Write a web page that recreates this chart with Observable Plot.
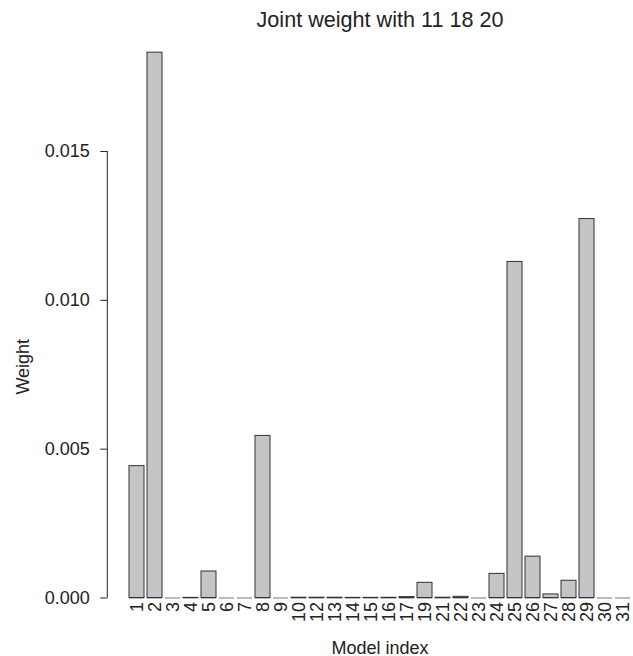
<!DOCTYPE html>
<html><head><meta charset="utf-8">
<script src="https://cdn.jsdelivr.net/npm/d3@7"></script>
<script src="https://cdn.jsdelivr.net/npm/@observablehq/plot@0.6"></script>
<style>body{margin:0;background:#fff}</style>
</head><body><div id="chart"></div>
<script>
const models = ["1","2","3","4","5","6","7","8","9","10","12","13","14","15","16","17","19","21","22","23","24","25","26","27","28","29","30","31"];
const weights = [0.00443, 0.01832, 0, 0.000005, 0.00089, 0, 0, 0.005445, 0, 0.00001, 0.00001, 0.00001, 0.000005, 0.000005, 0.000008, 0.00003, 0.00051, 0.00001, 0.00004, 0, 0.00081, 0.01129, 0.00139, 0.00012, 0.00058, 0.01273, 0, 0];
const yTicks = [0, 0.005, 0.010, 0.015];
const title = "Joint weight with 11 18 20";
const xLabel = "Model index";
const yLabel = "Weight";

const data = models.map((m, i) => ({model: m, weight: weights[i]}));

const W = 633, H = 656, mL = 127, mR = 1, mT = 151, mB = 58.5;
const axisOffset = 19.7;
const font = "'Liberation Sans', Arial, Helvetica, sans-serif";

const chart = Plot.plot({
  width: W, height: H,
  marginLeft: mL, marginRight: mR, marginTop: mT, marginBottom: mB,
  style: {fontFamily: font, fontSize: "18px", color: "#222", background: "#fff"},
  x: {type: "band", domain: models, paddingInner: 0.2 / 1.2, paddingOuter: 0, align: 0.5},
  y: {domain: [0, 0.015]},
  marks: [
    Plot.tickY(data, {x: "model", y: 0, stroke: "#777", strokeWidth: 1}),
    Plot.barY(data, {x: "model", y: "weight", fill: "#c5c5c7", stroke: "#333", strokeWidth: 1}),
    Plot.axisY({ticks: yTicks, tickSize: 7, tickPadding: 11, dx: -axisOffset, tickFormat: d3.format(".3f"), label: null, fontSize: 18}),
    Plot.axisX({tickSize: 0, tickRotate: -90, tickPadding: 4, label: null, fontSize: 18}),
    Plot.text([title], {frameAnchor: "top", lineAnchor: "bottom", dy: -124.3, fontSize: 21.6, fill: "#222"}),
    Plot.text([xLabel], {frameAnchor: "bottom", lineAnchor: "bottom", dy: 55.5, fontSize: 18, fill: "#222"}),
    Plot.text([yLabel], {frameAnchor: "left", textAnchor: "middle", rotate: -90, lineAnchor: "bottom", dx: -99, dy: -8, fontSize: 18, fill: "#222"})
  ]
});

const y = chart.scale("y");
d3.select(chart).append("line")
  .attr("x1", mL - axisOffset).attr("x2", mL - axisOffset)
  .attr("y1", y.apply(0)).attr("y2", y.apply(0.015))
  .attr("stroke", "#222").attr("stroke-width", 1);

document.getElementById("chart").appendChild(chart);
</script>
</body></html>
